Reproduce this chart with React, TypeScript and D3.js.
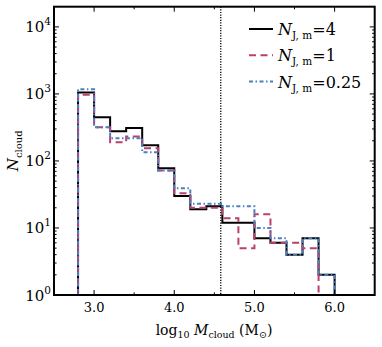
import React from "react";
import * as d3 from "d3";

// histogram bins in log10 M_cloud
const binEdges = [2.8, 3.0, 3.2, 3.4, 3.6, 3.8, 4.0, 4.2, 4.4, 4.6, 4.8, 5.0, 5.2, 5.4, 5.6, 5.8, 6.0];
const countsNJ4 = [1050, 450, 277, 311, 172, 78, 30, 19, 21, 12, 12, 7, 6, 4, 7, 2];
const countsNJ1 = [975, 318, 190, 232, 155, 72, 33, 20, 20, 14, 5, 16, 6, 6, 5, 0];
const countsNJ025 = [1170, 318, 218, 218, 135, 72, 39, 23, 23, 21, 21, 10, 7, 4, 7, 2];
const seriesLabels = ["4", "1", "0.25"];
const xTicks = [3.0, 4.0, 5.0, 6.0];
const xMinorTicks = [3.5, 4.5, 5.5];
const yTicks = [1, 10, 100, 1000, 10000];
const jeansLine = 4.58;

const W = 382;
const H = 347;
const margin = { top: 6.7, right: 7.3, bottom: 52, left: 54 };
const font = "'DejaVu Serif', 'Liberation Serif', serif";

const series = [
  { counts: countsNJ4, color: "#000000", dash: "none", width: 2 },
  { counts: countsNJ1, color: "#b8426f", dash: "7,4.5", width: 2 },
  { counts: countsNJ025, color: "#4a7fc0", dash: "4,2.5,1.5,2.5", width: 2 },
];

const App = () => {
  const x0 = margin.left;
  const x1 = W - margin.right;
  const y0 = H - margin.bottom;
  const y1 = margin.top;

  const x = d3.scaleLinear().domain([2.5, 6.5]).range([x0, x1]);
  const y = d3.scaleLog().domain([1, 2e4]).range([y0, y1]);

  const yMinor: number[] = [];
  for (let e = 0; e <= 4; e++) {
    for (let m = 2; m <= 9; m++) {
      const v = m * Math.pow(10, e);
      if (v < 2e4) yMinor.push(v);
    }
  }

  const stepLine = d3
    .line<[number, number]>()
    .x((d) => x(d[0]))
    .y((d) => (d[1] > 0 ? y(d[1]) : y0 + 2));

  const stepPoints = (counts: number[]) => {
    const pts: [number, number][] = [[binEdges[0], 0]];
    counts.forEach((c, i) => {
      pts.push([binEdges[i], c]);
      pts.push([binEdges[i + 1], c]);
    });
    pts.push([binEdges[binEdges.length - 1], 0]);
    return pts;
  };

  const majLen = 5;
  const minLen = 2.6;

  return (
    <div style={{ position: "absolute", left: 0, top: 0 }}>
      <svg width={W} height={H} style={{ display: "block", background: "#fff" }}>
        <defs>
          <clipPath id="plotClip">
            <rect x={x0} y={y1} width={x1 - x0} height={y0 - y1} />
          </clipPath>
        </defs>

        {/* jeans mass marker */}
        <line
          x1={x(jeansLine)}
          x2={x(jeansLine)}
          y1={y1}
          y2={y0}
          stroke="#000"
          strokeWidth={1.3}
          strokeDasharray="1.2,1.4"
        />

        {/* histograms */}
        <g clipPath="url(#plotClip)">
          {series.map((s, i) => (
            <path
              key={i}
              d={stepLine(stepPoints(s.counts)) || ""}
              fill="none"
              stroke={s.color}
              strokeWidth={s.width}
              strokeDasharray={s.dash}
            />
          ))}
        </g>

        {/* ticks */}
        <g stroke="#000" strokeWidth={1}>
          {xTicks.map((t) => (
            <g key={"xt" + t}>
              <line x1={x(t)} x2={x(t)} y1={y0} y2={y0 - majLen} />
              <line x1={x(t)} x2={x(t)} y1={y1} y2={y1 + majLen} />
            </g>
          ))}
          {xMinorTicks.map((t) => (
            <g key={"xm" + t}>
              <line x1={x(t)} x2={x(t)} y1={y0} y2={y0 - minLen} />
              <line x1={x(t)} x2={x(t)} y1={y1} y2={y1 + minLen} />
            </g>
          ))}
          {yTicks.map((t) => (
            <g key={"yt" + t}>
              <line x1={x0} x2={x0 + majLen} y1={y(t)} y2={y(t)} />
              <line x1={x1} x2={x1 - majLen} y1={y(t)} y2={y(t)} />
            </g>
          ))}
          {yMinor.map((t) => (
            <g key={"ym" + t}>
              <line x1={x0} x2={x0 + minLen} y1={y(t)} y2={y(t)} />
              <line x1={x1} x2={x1 - minLen} y1={y(t)} y2={y(t)} />
            </g>
          ))}
        </g>

        {/* frame */}
        <rect x={x0} y={y1} width={x1 - x0} height={y0 - y1} fill="none" stroke="#000" strokeWidth={2} />

        {/* x tick labels */}
        {xTicks.map((t) => (
          <text key={"xl" + t} x={x(t)} y={312} textAnchor="middle" fontFamily={font} fontSize={13}>
            {t.toFixed(1)}
          </text>
        ))}

        {/* y tick labels */}
        {yTicks.map((t) => (
          <text key={"yl" + t} x={51} y={y(t) + 5.5} textAnchor="end" fontFamily={font} fontSize={15}>
            10
            <tspan dy={-7} fontSize={10.5}>
              {Math.round(Math.log10(t))}
            </tspan>
          </text>
        ))}

        {/* x axis label */}
        <text x={214} y={335} textAnchor="middle" fontFamily={font} fontSize={14}>
          log
          <tspan dy={3} fontSize={9.5}>10</tspan>
          <tspan dy={-3}> </tspan>
          <tspan fontStyle="italic">M</tspan>
          <tspan dy={3} fontSize={9.5}>cloud</tspan>
          <tspan dy={-3}> (M</tspan>
          <tspan dy={3} fontSize={9.5}>⊙</tspan>
          <tspan dy={-3}>)</tspan>
        </text>

        {/* y axis label */}
        <text
          transform={`translate(18, ${(y0 + y1) / 2}) rotate(-90)`}
          textAnchor="middle"
          fontFamily={font}
          fontSize={15}
        >
          <tspan fontStyle="italic">N</tspan>
          <tspan dy={3.5} fontSize={10}>cloud</tspan>
        </text>

        {/* legend */}
        {series.map((s, i) => {
          const ly = 29 + i * 26.3;
          return (
            <g key={"lg" + i}>
              <line x1={249} x2={273} y1={ly} y2={ly} stroke={s.color} strokeWidth={s.width} strokeDasharray={s.dash} />
              <text x={278} y={ly + 6} fontFamily={font} fontSize={16}>
                <tspan fontStyle="italic">N</tspan>
                <tspan dy={4} fontSize={10.5}>J, m</tspan>
                <tspan dy={-4}>={seriesLabels[i]}</tspan>
              </text>
            </g>
          );
        })}
      </svg>
    </div>
  );
};

export default App;
